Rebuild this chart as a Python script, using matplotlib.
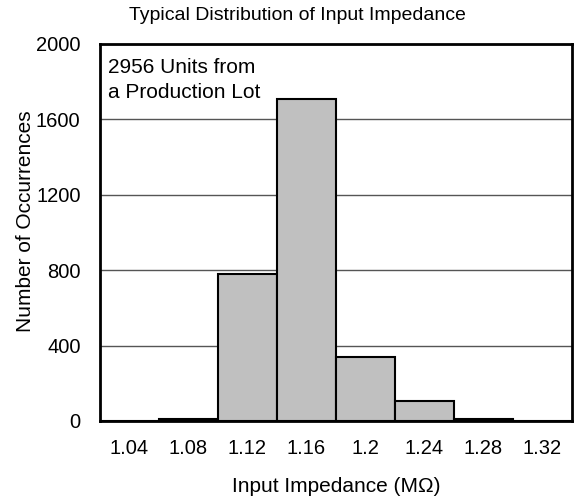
import matplotlib
matplotlib.use('Agg')
import matplotlib.pyplot as plt

# impedance bins (MOhm) and counts
bins = [1.04, 1.08, 1.12, 1.16, 1.20, 1.24, 1.28, 1.32]
counts = [1, 8, 780, 1710, 340, 108, 8, 1]
tick_labels = ['1.04', '1.08', '1.12', '1.16', '1.2', '1.24', '1.28', '1.32']
y_ticks = [0, 400, 800, 1200, 1600, 2000]

plt.rcParams['font.family'] = ['Liberation Sans', 'DejaVu Sans']

fig = plt.figure(figsize=(5.77, 5.04), dpi=100)
ax = fig.add_axes([0.1733, 0.1647, 0.8180, 0.748])

ax.bar(bins, counts, width=0.04, color='#c0c0c0', edgecolor='black', linewidth=1.5, zorder=3)

ax.set_xlim(1.02, 1.34)
ax.set_ylim(0, 2000)
ax.set_xticks(bins)
ax.set_xticklabels(tick_labels)
ax.set_yticks(y_ticks)
ax.tick_params(axis='both', length=0, labelsize=14.5)
ax.tick_params(axis='x', pad=13)
ax.tick_params(axis='y', pad=14)

ax.yaxis.grid(True, color='#555555', linewidth=1.0, zorder=0)
for s in ax.spines.values():
    s.set_linewidth(2)
    s.set_zorder(4)

ax.set_title('Typical Distribution of Input Impedance', fontsize=14, pad=17, x=0.418)
ax.set_xlabel('Input Impedance (M\u03a9)', fontsize=15, labelpad=14)
ax.set_ylabel('Number of Occurrences', fontsize=15, labelpad=0)
ax.yaxis.set_label_coords(-0.138, 0.53)
ax.text(0.017, 0.962, '2956 Units from\na Production Lot', transform=ax.transAxes,
        fontsize=15, va='top', ha='left', linespacing=1.4)

fig.savefig('out.png', dpi=100)
